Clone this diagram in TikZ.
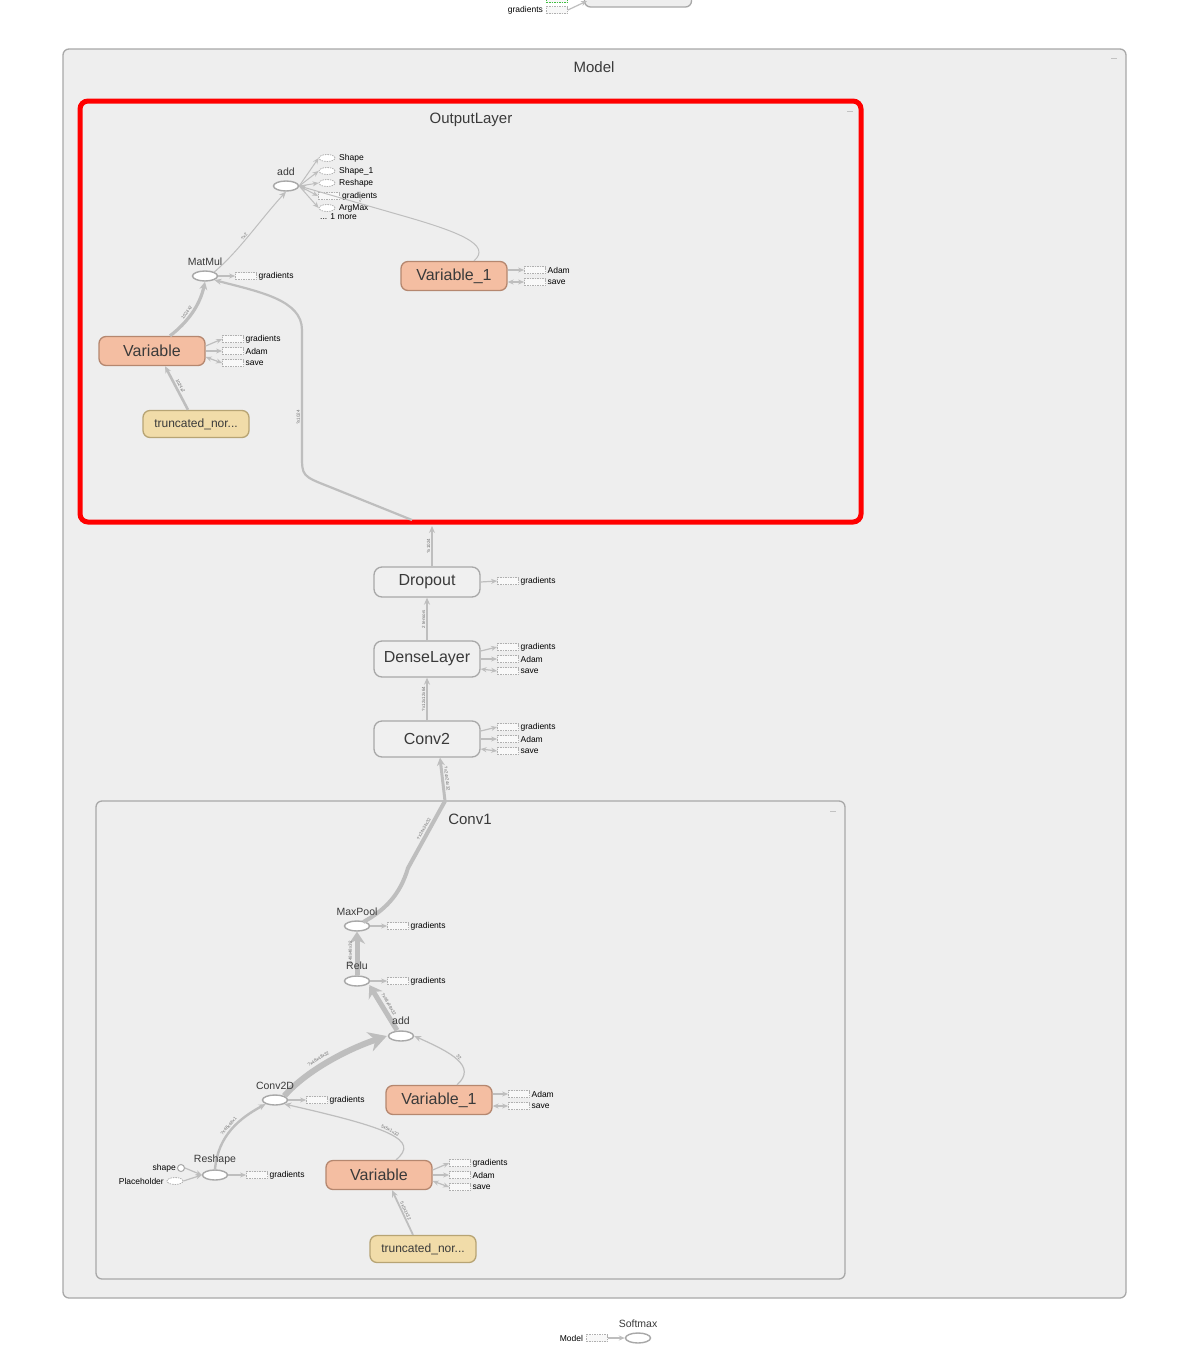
\documentclass[tikz,border=0pt]{standalone}
\usepackage{fontspec}
\setmainfont{Liberation Sans}
\usetikzlibrary{shapes.geometric,arrows.meta}
\definecolor{grpfill}{HTML}{EEEEEE}
\definecolor{grpline}{HTML}{A8A8A8}
\definecolor{edgec}{HTML}{BEBEBE}
\definecolor{txt}{HTML}{3A3A3A}
\definecolor{varfill}{HTML}{F4BEA2}
\definecolor{varline}{HTML}{B5876F}
\definecolor{trfill}{HTML}{F1DCA9}
\definecolor{trline}{HTML}{B7A474}
\definecolor{metafill}{HTML}{F0F0F0}
\definecolor{auxline}{HTML}{B0B0B0}
\definecolor{lblc}{HTML}{707070}
\newcommand{\auxbox}[5]{%
  \node[#5] (#1) at (#2,#3) {};
  \node[small, anchor=west] (#1t) at ([xshift=1.5pt]#1.east) {#4};}
\begin{document}
\begin{tikzpicture}[x=1pt,y=-1pt,
  grp/.style={draw=grpline, fill=grpfill, line width=1.3pt, rounded corners=6pt},
  ttl/.style={font=\fontsize{15}{18}\selectfont, text=txt},
  opn/.style={ellipse, draw=grpline, fill=white, line width=1.4pt, minimum width=25pt, minimum height=10pt, inner sep=0pt},
  varn/.style={rounded corners=7pt, draw=varline, fill=varfill, line width=1.3pt, minimum width=106pt, minimum height=29pt, font=\fontsize{16}{19}\selectfont, text=txt, inner sep=0pt},
  trn/.style={rounded corners=7pt, draw=trline, fill=trfill, line width=1.3pt, minimum width=106pt, minimum height=27pt, font=\fontsize{12}{14}\selectfont, text=txt, inner sep=0pt},
  metan/.style={rounded corners=8pt, draw=grpline, fill=metafill, line width=1.3pt, minimum width=106pt, minimum height=36pt, font=\fontsize{16}{19}\selectfont, text=txt, inner sep=0pt},
  dbox/.style={draw=auxline, dash pattern=on 1.5pt off 1pt, fill=grpfill!40!white, line width=0.8pt, minimum width=21pt, minimum height=7pt, inner sep=0pt},
  dell/.style={ellipse, draw=auxline, dash pattern=on 1.5pt off 1pt, fill=white, line width=0.8pt, minimum width=16pt, minimum height=7pt, inner sep=0pt},
  small/.style={font=\fontsize{8.5}{10}\selectfont, text=black, inner sep=0pt},
  oplbl/.style={font=\fontsize{10.5}{12}\selectfont, text=txt, inner sep=0pt},
  ed/.style={draw=edgec, line width=1.2pt, -{Stealth[length=7pt,width=6pt]}},
  aed/.style={draw=edgec, line width=1.2pt, -{Stealth[length=6pt,width=5pt]}},
  sed/.style={draw=edgec, line width=1.2pt, {Stealth[length=6pt,width=5pt]}-{Stealth[length=6pt,width=5pt]}},
  elbl/.style={font=\fontsize{4.5}{5}\selectfont, text=lblc, sloped, inner sep=0.5pt},
  mini/.style={draw=grpline!70, line width=0.8pt}
]
\useasboundingbox (0,0) rectangle (1177,1360);
\fill[white] (0,0) rectangle (1177,1360);

% ---------- top fragment ----------
\node[draw=grpline, fill=grpfill, line width=1.3pt, rounded corners=6pt, minimum width=107pt, minimum height=30pt] (topbox) at (638,-8) {};
\node[dbox, draw=green!50!gray] (topg) at (557,-1) {};
\auxbox{topgrad}{557}{10}{}{dbox}
\node[small, anchor=east] (topgradl) at ([xshift=-3pt]topgrad.west) {gradients};
\draw[aed] (topgrad.east) -- (587,1);

% ---------- Model group ----------
\draw[grp] (63,49) rectangle (1126,1298);
\node[ttl] (modelt) at (594,67) {Model};
\draw[mini] (1111,58) -- (1117,58);

% ---------- OutputLayer ----------
\draw[grp] (80,101) rectangle (861,522);
\draw[draw=red, line width=5pt, rounded corners=8pt] (80,101) rectangle (861,522);
\node[ttl] (outt) at (471,120) {OutputLayer};
\draw[mini] (847,111) -- (853,111);

\node[opn] (addO) at (286,186) {};
\node[dell] (shp) at (327,158) {};
\node[small, anchor=west] (shpl) at (339,158) {Shape};
\node[dell] (shp1) at (327,171) {};
\node[small, anchor=west] (shp1l) at (339,171) {Shape\_1};
\node[dell] (rsh) at (327,183) {};
\node[small, anchor=west] (rshl) at (339,183) {Reshape};
\node[dbox] (agr) at (329,196) {};
\node[small, anchor=west] (agrl) at (342,196) {gradients};
\node[dell] (amx) at (327,208) {};
\node[small, anchor=west] (amxl) at (339,208) {ArgMax};
\node[small, anchor=west] (more) at (320,217) {... 1 more};
\foreach \t in {shp,shp1,rsh,agr,amx}{\draw[aed, line width=1pt] (addO.east) -- (\t.west);}

\node[opn] (MatMul) at (205,276) {};
\auxbox{mmg}{246}{276}{gradients}{dbox}
\draw[aed] (MatMul.east) -- (mmg.west);

\node[varn] (VarO) at (152,351) {Variable};
\auxbox{vog}{233}{339}{gradients}{dbox}
\auxbox{voa}{233}{351}{Adam}{dbox}
\auxbox{vos}{233}{363}{save}{dbox}
\draw[aed] ([yshift=5pt]VarO.east) -- (vog.west);
\draw[aed] (VarO.east) -- (voa.west);
\draw[sed] ([yshift=-6pt]VarO.east) -- (vos.west);

\node[trn] (TrO) at (196,424) {truncated\_nor...};

\node[varn] (Var1O) at (454,276) {Variable\_1};
\auxbox{v1oa}{535}{270}{Adam}{dbox}
\auxbox{v1os}{535}{282}{save}{dbox}
\draw[aed] ([yshift=6pt]Var1O.east) -- (v1oa.west);
\draw[sed] ([yshift=-6pt]Var1O.east) -- (v1os.west);

\draw[ed, line width=3.2pt, -{Stealth[length=8pt,width=8pt]}] ([xshift=18pt]VarO.north) .. controls (188,322) and (200,305) .. (MatMul.south) node[elbl, pos=0.45, above=1pt] {1024x2};
\draw[ed, line width=2.6pt] ([xshift=-8pt]TrO.north) -- ([xshift=13pt]VarO.south) node[elbl, midway, above=1pt] {1024x2};
\draw[ed, line width=1pt] (MatMul.north east) .. controls (240,250) and (260,220) .. (addO.south) node[elbl, pos=0.45, above=0.5pt] {?x2};
\draw[ed, line width=1pt] ([xshift=20pt]Var1O.north) .. controls (492,245) and (460,232) .. (400,215) -- (addO.east) node[elbl, pos=0.4, above=0.5pt] {2};

\coordinate (enterO) at (432,522);
\draw[ed, line width=2.2pt] (412,520) -- (330,487) .. controls (302,476) .. (302,455) -- (302,330) node[elbl, pos=0.3, above=0.5pt] {?x1024} .. controls (302,300) and (260,292) .. (MatMul.south east);

% ---------- middle meta nodes ----------
\node[metan, minimum height=30pt] (Dropout) at (427,582) {Dropout};
\auxbox{dpg}{508}{581}{gradients}{dbox}
\draw[aed] (Dropout.east) -- (dpg.west);

\node[metan] (Dense) at (427,659) {DenseLayer};
\auxbox{dng}{508}{647}{gradients}{dbox}
\auxbox{dna}{508}{659}{Adam}{dbox}
\auxbox{dns}{508}{671}{save}{dbox}
\draw[aed] ([yshift=8pt]Dense.east) -- (dng.west);
\draw[aed] (Dense.east) -- (dna.west);
\draw[sed] ([yshift=-10pt]Dense.east) -- (dns.west);

\node[metan] (Conv2) at (427,739) {Conv2};
\auxbox{c2g}{508}{727}{gradients}{dbox}
\auxbox{c2a}{508}{739}{Adam}{dbox}
\auxbox{c2s}{508}{751}{save}{dbox}
\draw[aed] ([yshift=8pt]Conv2.east) -- (c2g.west);
\draw[aed] (Conv2.east) -- (c2a.west);
\draw[sed] ([yshift=-10pt]Conv2.east) -- (c2s.west);

\draw[ed, line width=1.8pt] ([xshift=5pt]Dropout.north) -- ([yshift=-4pt]enterO) node[elbl, midway, above=0.5pt] {?x1024};
\draw[ed, line width=1.6pt] (Dense.north) -- (Dropout.south) node[elbl, midway, above=0.5pt] {2 tensors};
\draw[ed, line width=1.6pt] (Conv2.north) -- (Dense.south) node[elbl, midway, above=0.5pt] {?x12x12x64};

% ---------- Conv1 ----------
\draw[grp] (96,801) rectangle (845,1279);
\node[ttl] (c1t) at (470,819) {Conv1};
\draw[mini] (830,811) -- (836,811);

\node[opn] (MaxPool) at (357,926) {};
\auxbox{mpg}{398}{926}{gradients}{dbox}
\draw[aed] (MaxPool.east) -- (mpg.west);

\node[opn] (Relu) at (357,981) {};
\auxbox{rlg}{398}{981}{gradients}{dbox}
\draw[aed] (Relu.east) -- (rlg.west);

\node[opn] (addC) at (401,1036) {};

\node[opn] (Conv2D) at (275,1100) {};
\auxbox{cdg}{317}{1100}{gradients}{dbox}
\draw[aed] (Conv2D.east) -- (cdg.west);

\node[varn] (Var1C) at (439,1100) {Variable\_1};
\auxbox{v1ca}{519}{1094}{Adam}{dbox}
\auxbox{v1cs}{519}{1106}{save}{dbox}
\draw[aed] ([yshift=6pt]Var1C.east) -- (v1ca.west);
\draw[sed] ([yshift=-6pt]Var1C.east) -- (v1cs.west);

\node[varn] (VarC) at (379,1175) {Variable};
\auxbox{vcg}{460}{1163}{gradients}{dbox}
\auxbox{vca}{460}{1175}{Adam}{dbox}
\auxbox{vcs}{460}{1187}{save}{dbox}
\draw[aed] ([yshift=5pt]VarC.east) -- (vcg.west);
\draw[aed] (VarC.east) -- (vca.west);
\draw[sed] ([yshift=-6pt]VarC.east) -- (vcs.west);

\node[trn] (TrC) at (423,1249) {truncated\_nor...};

\node[opn] (Reshape) at (215,1175) {};
\auxbox{rsg}{257}{1175}{gradients}{dbox}
\draw[aed] (Reshape.east) -- (rsg.west);

\node[circle, draw=grpline, fill=white, line width=1pt, minimum size=7pt, inner sep=0pt] (shape) at (181,1168) {};
\node[small, anchor=east] (shapel) at (176,1168) {shape};
\node[dell] (Placeholder) at (175,1181) {};
\node[small, anchor=east] (Placeholderl) at (164,1181) {Placeholder};
\draw[aed] (shape.east) -- (Reshape.west);
\draw[aed] (Placeholder.east) -- (Reshape.west);

% Conv1 edges
\coordinate (exitC) at (445,801);
\draw[draw=edgec, line width=4pt] ([xshift=-3pt]MaxPool.north east) .. controls (385,910) and (400,895) .. (408,868) -- (exitC) node[elbl, pos=0.55, above=1pt] {?x24x24x32};
\draw[ed, line width=3pt, -{Stealth[length=8pt,width=8pt]}] (exitC) -- ([xshift=13pt]Conv2.south) node[elbl, midway, above=1pt] {?x24x24x32};
\draw[ed, line width=5pt, -{Stealth[length=12pt,width=16pt]}] (Relu.north) -- (MaxPool.south) node[elbl, midway, above=2pt] {?x48x48x32};
\draw[ed, line width=5pt, -{Stealth[length=12pt,width=16pt]}] ([xshift=-4pt]addC.north) -- ([xshift=3pt]Relu.south east) node[elbl, midway, above=2pt] {?x48x48x32};
\draw[ed, line width=6pt, -{Stealth[length=18pt,width=20pt]}] (Conv2D.north east) .. controls (305,1072) and (345,1050) .. ([xshift=-1pt]addC.west) node[elbl, pos=0.45, above=2.5pt] {?x48x48x32};
\draw[ed, line width=1.2pt] ([xshift=18pt]Var1C.north) .. controls (478,1066) and (450,1052) .. (addC.east) node[elbl, pos=0.5, above=0.5pt] {32};
\draw[ed, line width=1.2pt] ([xshift=17pt]VarC.north) .. controls (420,1140) and (390,1128) .. (Conv2D.south east) node[elbl, pos=0.5, above=0.5pt] {5x5x1x32};
\draw[ed, line width=1.8pt] ([xshift=-10pt]TrC.north) -- ([xshift=13pt]VarC.south) node[elbl, midway, above=0.5pt] {5x5x1x32};
\draw[ed, line width=2.4pt] (Reshape.north) .. controls (218,1135) and (240,1118) .. (Conv2D.south west) node[elbl, pos=0.5, above=1pt] {?x48x48x1};

% ---------- op labels on top ----------
\node[oplbl] (addOl) at (286,172) {add};
\node[oplbl] (MatMull) at (205,262) {MatMul};
\node[oplbl] (MaxPooll) at (357,912) {MaxPool};
\node[oplbl] (Relul) at (357,966) {Relu};
\node[oplbl] (addCl) at (401,1021) {add};
\node[oplbl] (Conv2Dl) at (275,1086) {Conv2D};
\node[oplbl] (Reshapel) at (215,1160) {Reshape};

% ---------- bottom ----------
\node[opn] (Softmax) at (638,1338) {};
\node[oplbl] (Softmaxl) at (638,1324) {Softmax};
\node[dbox] (mdl) at (597,1338) {};
\node[small, anchor=east] (mdll) at ([xshift=-3pt]mdl.west) {Model};
\draw[aed] (mdl.east) -- (Softmax.west);
\end{tikzpicture}
\end{document}
